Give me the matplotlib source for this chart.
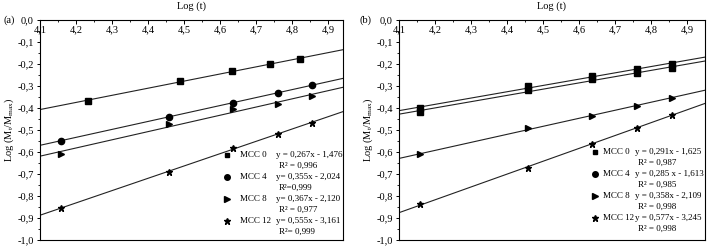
import numpy as np
import matplotlib
matplotlib.use("Agg")
import matplotlib.pyplot as plt
from matplotlib.ticker import MultipleLocator, FuncFormatter

plt.rcParams['font.family'] = ['Liberation Serif', 'DejaVu Serif']
plt.rcParams['font.size'] = 7.5

# log(t) values of the sampling times
logt = [4.158, 4.459, 4.635, 4.760, 4.857]

# panel (a)
a_mcc0_x = [4.233, 4.488, 4.634, 4.740, 4.823]
a_mcc0 = [-0.368, -0.276, -0.232, -0.201, -0.177]
a_mcc4 = [-0.549, -0.439, -0.376, -0.333, -0.295]
a_mcc8 = [-0.608, -0.473, -0.405, -0.383, -0.345]
a_mcc12 = [-0.856, -0.689, -0.580, -0.520, -0.467]
a_eq = ["y = 0,267x - 1,476", "y= 0,355x - 2,024", "y= 0,367x - 2,120", "y= 0,555x - 3,161"]
a_r2 = ["R² = 0,996", "R²=0,999", "R² = 0,977", "R²= 0,999"]

# panel (b)
b_mcc0 = [-0.402, -0.300, -0.255, -0.223, -0.202]
b_mcc4 = [-0.418, -0.318, -0.270, -0.241, -0.220]
b_mcc8 = [-0.611, -0.492, -0.435, -0.391, -0.353]
b_mcc12 = [-0.838, -0.674, -0.562, -0.489, -0.432]
b_eq = ["y = 0,291x - 1,625", "y = 0,285 x - 1,613", "y = 0,358x - 2,109", "y = 0,577x - 3,245"]
b_r2 = ["R² = 0,987", "R² = 0,985", "R² = 0,998", "R² = 0,998"]

names = ["MCC 0", "MCC 4", "MCC 8", "MCC 12"]
legend_markers = ["s", "o", ">", "*"]
legend_sizes = [3.5, 4, 4, 5]

W, H = 707, 249
fig = plt.figure(figsize=(W / 100, H / 100), dpi=100)


def comma(v, pos):
    return f"{v:.1f}".replace(".", ",")


def setup_axes(left_px, right_px, xmax):
    ax = fig.add_axes([left_px / W, 9 / H, (right_px - left_px) / W, 220 / H])
    ax.set_xlim(4.1, xmax)
    ax.set_ylim(-1.0, 0.0)
    ax.xaxis.tick_top()
    ax.xaxis.set_major_locator(MultipleLocator(0.1))
    ax.xaxis.set_minor_locator(MultipleLocator(0.05))
    ax.yaxis.set_major_locator(MultipleLocator(0.1))
    ax.yaxis.set_minor_locator(MultipleLocator(0.05))
    ax.xaxis.set_major_formatter(FuncFormatter(comma))
    ax.yaxis.set_major_formatter(FuncFormatter(comma))
    ax.tick_params(axis="x", which="major", direction="in", length=3, width=0.7, pad=-10)
    ax.tick_params(axis="x", which="minor", direction="in", length=1.5, width=0.6)
    ax.tick_params(axis="y", which="major", direction="out", length=2.5, width=0.7, pad=2)
    ax.tick_params(axis="y", which="minor", direction="out", length=1.5, width=0.6)
    for s in ax.spines.values():
        s.set_linewidth(0.8)
    ax.set_title("Log (t)", pad=8, fontsize=7.5)
    ax.set_ylabel("Log (M$_\\mathregular{t}$/M$_\\mathregular{max}$)", fontsize=7.5)
    ax.yaxis.set_label_coords(-24 / (right_px - left_px), 0.5)
    return ax


def plot_series(ax, x, y, marker, ms):
    x = np.asarray(x)
    y = np.asarray(y)
    k, b = np.polyfit(x, y, 1)
    xl = np.array(ax.get_xlim())
    ax.plot(xl, k * xl + b, color="#222222", lw=0.8)
    ax.plot(x, y, linestyle="none", marker=marker, ms=ms, color="black")


def draw_legend(ax, x_mark, x_name, x_eq, y_top, eqs, r2s):
    for i in range(4):
        yy = y_top - i * 0.1
        ax.plot([x_mark], [yy], marker=legend_markers[i], ms=legend_sizes[i],
                color="black", linestyle="none")
        ax.text(x_name, yy, names[i], va="center", ha="left", fontsize=6.5)
        ax.text(x_eq, yy, eqs[i], va="center", ha="left", fontsize=6.5)
        ax.text(x_eq + 0.008, yy - 0.05, r2s[i], va="center", ha="left", fontsize=6.5)


ax_a = setup_axes(40, 343, 4.942)
plot_series(ax_a, a_mcc0_x, a_mcc0, "s", 4)
plot_series(ax_a, logt, a_mcc4, "o", 4.5)
plot_series(ax_a, logt, a_mcc8, ">", 4.5)
plot_series(ax_a, logt, a_mcc12, "*", 5)
draw_legend(ax_a, 4.619, 4.656, 4.756, -0.614, a_eq, a_r2)

ax_b = setup_axes(399, 705, 4.95)
plot_series(ax_b, logt, b_mcc0, "s", 4)
plot_series(ax_b, logt, b_mcc4, "s", 4)
plot_series(ax_b, logt, b_mcc8, ">", 4.5)
plot_series(ax_b, logt, b_mcc12, "*", 5)
draw_legend(ax_b, 4.644, 4.667, 4.756, -0.600, b_eq, b_r2)

fig.text(3 / W, 1 - 20 / H, "(a)", va="center", ha="left", fontsize=7.5)
fig.text(360 / W, 1 - 20 / H, "(b)", va="center", ha="left", fontsize=7.5)

fig.savefig("out.png", dpi=100)
